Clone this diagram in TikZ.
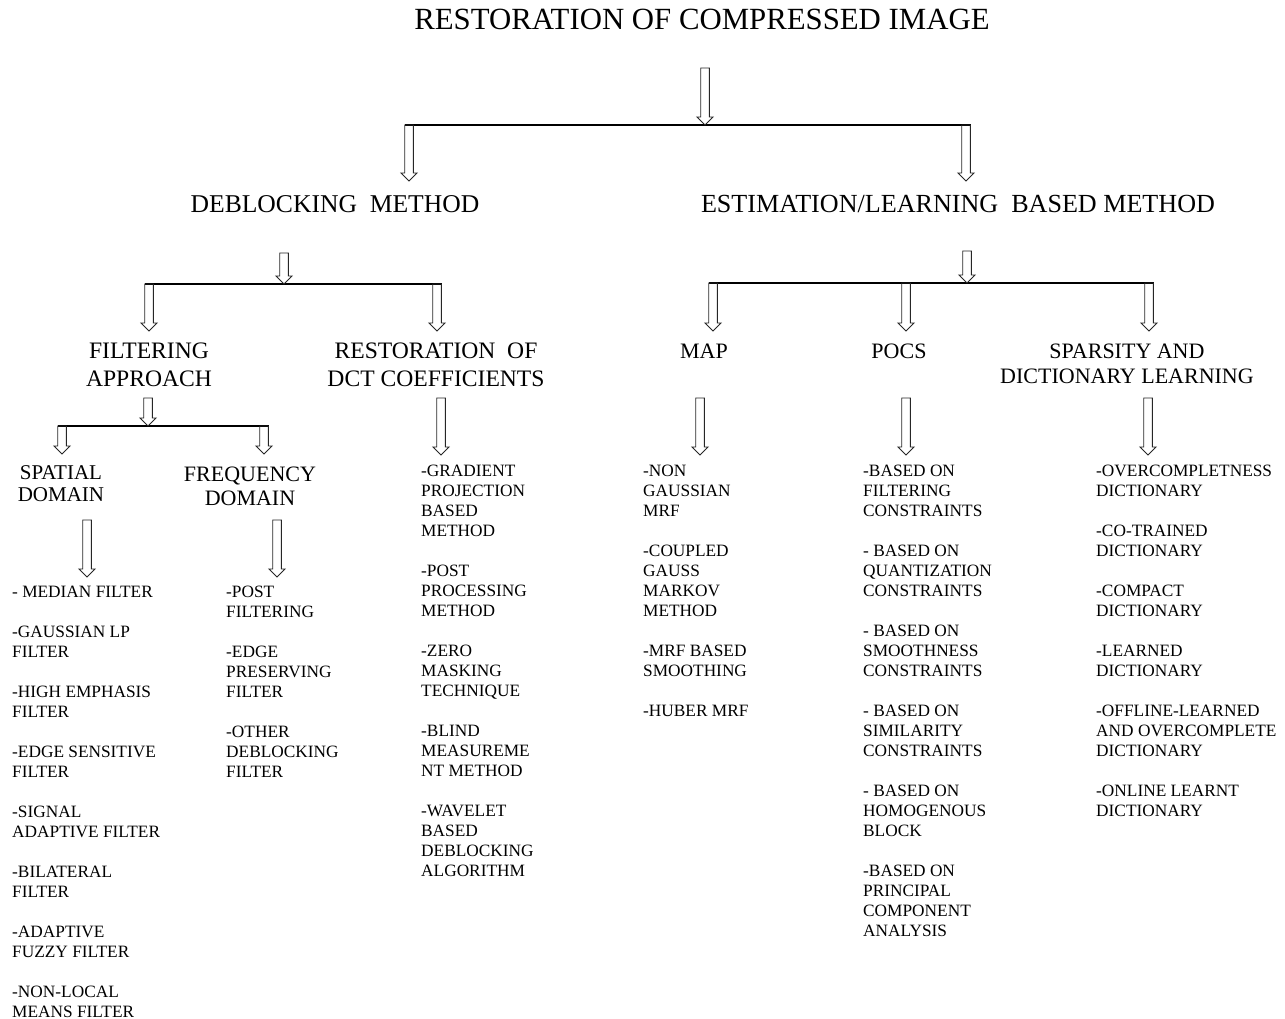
\documentclass[tikz,border=0pt]{standalone}
\usepackage{fontspec}
\setmainfont{Liberation Serif}
\usetikzlibrary{calc}

\tikzset{
  hollow/.style={draw=black!85, line width=0.9pt, to path={
      let \p1=(\tikztostart), \p2=(\tikztotarget) in
      (\x1-4.3pt,\y1) -- (\x1-4.3pt,\y2+8pt) -- (\x1-8pt,\y2+8pt) -- (\x1,\y2)
      -- (\x1+8pt,\y2+8pt) -- (\x1+4.3pt,\y2+8pt) -- (\x1+4.3pt,\y1) -- cycle}},
  bar/.style={line width=1.8pt},
  titlefont/.style={font=\fontsize{30.8}{34}\selectfont},
  heading/.style={font=\fontsize{25.6}{28}\selectfont},
  subhead/.style={font=\fontsize{22}{28}\selectfont, align=center},
  itemlist/.style={font=\fontsize{17.3}{20}\selectfont, align=left, anchor=north west, inner sep=0pt}
}

\begin{document}
\begin{tikzpicture}[x=1pt, y=-1pt]
\useasboundingbox (0,0) rectangle (1285,1019);

\node[titlefont, anchor=base] (title) at (702,30) {RESTORATION OF COMPRESSED IMAGE};

% first split
\coordinate (t0) at (705,68);
\coordinate (t1) at (705,125);
\coordinate (tL) at (409,125);
\coordinate (tR) at (966,125);
\coordinate (dbTop) at (409,181);
\coordinate (esTop) at (966,181);
\draw[bar] ([xshift=-4.5pt]tL) -- ([xshift=4.5pt]tR);
\draw[hollow] (t0) to (t1);
\draw[hollow] (tL) to (dbTop);
\draw[hollow] (tR) to (esTop);

\node[heading, anchor=base] (deblock) at (335,213) {DEBLOCKING\ \ METHOD};
\node[heading, anchor=base, font=\fontsize{26.1}{28}\selectfont] (estim) at (958,213) {ESTIMATION/LEARNING\ \ BASED METHOD};

% deblocking split
\coordinate (d0) at (284,253);
\coordinate (d1) at (284,284);
\coordinate (dL) at (149,284);
\coordinate (dR) at (437,284);
\coordinate (filtTop) at (149,331);
\coordinate (dctTop) at (437,331);
\draw[bar] ([xshift=-4.5pt]dL) -- ([xshift=4.5pt]dR);
\draw[hollow] (d0) to (d1);
\draw[hollow] (dL) to (filtTop);
\draw[hollow] (dR) to (dctTop);

% estimation split
\coordinate (e0) at (967,251);
\coordinate (e1) at (967,283);
\coordinate (eL) at (713,283);
\coordinate (eM) at (906,283);
\coordinate (eR) at (1149,283);
\coordinate (mapTop) at (713,331);
\coordinate (pocsTop) at (906,331);
\coordinate (sparseTop) at (1149,331);
\draw[bar] ([xshift=-4.5pt]eL) -- ([xshift=4.5pt]eR);
\draw[hollow] (e0) to (e1);
\draw[hollow] (eL) to (mapTop);
\draw[hollow] (eM) to (pocsTop);
\draw[hollow] (eR) to (sparseTop);

\node[subhead, font=\fontsize{23.6}{28}\selectfont] (filt) at (149,365) {FILTERING\\APPROACH};
\node[subhead, font=\fontsize{23.6}{28}\selectfont] (dct) at (436,365) {RESTORATION\ \ OF\\DCT COEFFICIENTS};
\node[subhead] (map) at (704,351) {MAP};
\node[subhead] (pocs) at (899,351) {POCS};
\node[subhead, font=\fontsize{22}{25}\selectfont] (sparse) at (1127,363.5) {SPARSITY AND\\DICTIONARY LEARNING};

% filtering split
\coordinate (f0) at (148,398);
\coordinate (f1) at (148,426);
\coordinate (fL) at (62,426);
\coordinate (fR) at (264,426);
\coordinate (spTop) at (62,454);
\coordinate (fqTop) at (264,454);
\draw[bar] ([xshift=-4.5pt]fL) -- ([xshift=4.5pt]fR);
\draw[hollow] (f0) to (f1);
\draw[hollow] (fL) to (spTop);
\draw[hollow] (fR) to (fqTop);

\node[subhead, font=\fontsize{21}{22}\selectfont] (spatial) at (61,484) {SPATIAL\\DOMAIN};
\node[subhead, font=\fontsize{22}{24}\selectfont] (freq) at (250,486) {FREQUENCY\\DOMAIN};

% arrows down to the lists
\coordinate (sp0) at (87,520);   \coordinate (sp1) at (87,577);
\coordinate (fq0) at (277,520);  \coordinate (fq1) at (277,577);
\coordinate (dc0) at (441,398);  \coordinate (dc1) at (441,455);
\coordinate (mp0) at (700,398);  \coordinate (mp1) at (700,455);
\coordinate (pc0) at (906,398);  \coordinate (pc1) at (906,455);
\coordinate (sd0) at (1148,398); \coordinate (sd1) at (1148,455);
\draw[hollow] (sp0) to (sp1);
\draw[hollow] (fq0) to (fq1);
\draw[hollow] (dc0) to (dc1);
\draw[hollow] (mp0) to (mp1);
\draw[hollow] (pc0) to (pc1);
\draw[hollow] (sd0) to (sd1);

\node[itemlist] (spatlist) at (12,585.4) {- MEDIAN FILTER\\[20pt]-GAUSSIAN LP\\FILTER\\[20pt]-HIGH EMPHASIS\\FILTER\\[20pt]-EDGE SENSITIVE\\FILTER\\[20pt]-SIGNAL\\ADAPTIVE FILTER\\[20pt]-BILATERAL\\FILTER\\[20pt]-ADAPTIVE\\FUZZY FILTER\\[20pt]-NON-LOCAL\\MEANS FILTER};
\node[itemlist] (freqlist) at (226,585.4) {-POST\\FILTERING\\[20pt]-EDGE\\PRESERVING\\FILTER\\[20pt]-OTHER\\DEBLOCKING\\FILTER};
\node[itemlist] (dctlist) at (421,464.8) {-GRADIENT\\PROJECTION\\BASED\\METHOD\\[20pt]-POST\\PROCESSING\\METHOD\\[20pt]-ZERO\\MASKING\\TECHNIQUE\\[20pt]-BLIND\\MEASUREME\\NT METHOD\\[20pt]-WAVELET\\BASED\\DEBLOCKING\\ALGORITHM};
\node[itemlist] (maplist) at (643,464.8) {-NON\\GAUSSIAN\\MRF\\[20pt]-COUPLED\\GAUSS\\MARKOV\\METHOD\\[20pt]-MRF BASED\\SMOOTHING\\[20pt]-HUBER MRF};
\node[itemlist] (pocslist) at (863,464.8) {-BASED ON\\FILTERING\\CONSTRAINTS\\[20pt]- BASED ON\\QUANTIZATION\\CONSTRAINTS\\[20pt]- BASED ON\\SMOOTHNESS\\CONSTRAINTS\\[20pt]- BASED ON\\SIMILARITY\\CONSTRAINTS\\[20pt]- BASED ON\\HOMOGENOUS\\BLOCK\\[20pt]-BASED ON\\PRINCIPAL\\COMPONENT\\ANALYSIS};
\node[itemlist] (sparselist) at (1096,464.8) {-OVERCOMPLETNESS\\DICTIONARY\\[20pt]-CO-TRAINED\\DICTIONARY\\[20pt]-COMPACT\\DICTIONARY\\[20pt]-LEARNED\\DICTIONARY\\[20pt]-OFFLINE-LEARNED\\AND OVERCOMPLETE\\DICTIONARY\\[20pt]-ONLINE LEARNT\\DICTIONARY};
\end{tikzpicture}
\end{document}
